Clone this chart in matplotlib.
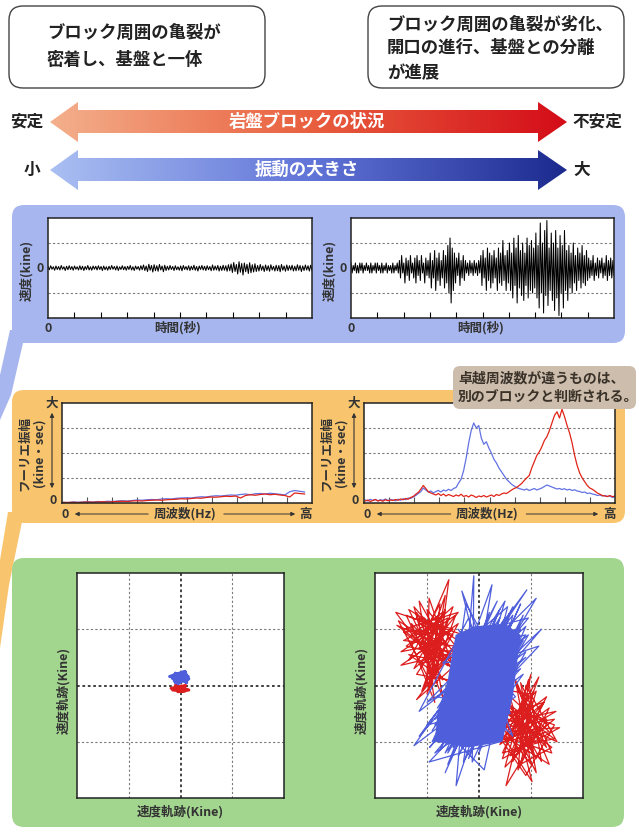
import numpy as np
import matplotlib
matplotlib.use('Agg')
import matplotlib.pyplot as plt
from matplotlib.patches import FancyBboxPatch, Polygon
from matplotlib.colors import LinearSegmentedColormap

plt.rcParams['font.family'] = ['Noto Sans CJK JP', 'DejaVu Sans']

W, H = 639, 833

# Textos
caixa_esq = ['ブロック周囲の亀裂が', '密着し、基盤と一体']
caixa_dir = ['ブロック周囲の亀裂が劣化、', '開口の進行、基盤との分離', 'が進展']
seta1 = ('安定', '岩盤ブロックの状況', '不安定')
seta2 = ('小', '振動の大きさ', '大')
nota = ['卓越周波数が違うものは、', '別のブロックと判断される。']

# Ondas de velocidade: picos positivos / negativos alternados (0.1 kine / 0.01 kine)
onda_dir_sup = [2, 1, 2, 1, 2, 2, 1, 2, 1, 2, 1, 2, 2, 1, 2, 1, 2, 1, 1, 2, 1, 2,
                3, 5, 2, 4, 3, 5, 2, 4, 5, 3, 5, 2, 4, 3,
                6, 3, 7, 4, 6, 3, 7, 5,
                9, 12, 8,
                6, 4, 6, 3, 5,
                3, 2, 3, 2, 3, 2, 3,
                5, 7, 4, 8, 6, 5, 7, 4, 8, 6, 11, 5, 7,
                10, 6, 12, 8, 13, 7, 10, 6, 12, 9, 11, 8,
                14, 9, 18, 10, 15, 19, 8, 14, 10,
                15, 8, 13, 9, 15, 7,
                9, 6, 10, 5, 8, 6, 9, 5, 7,
                4, 3, 5, 2, 4, 3, 4, 2, 5, 3, 4, 3]
onda_dir_inf = [2, 1, 2, 2, 1, 2, 1, 1, 2, 2, 1, 2, 1, 2, 2, 1, 2, 1, 2, 2, 1, 2,
                4, 2, 6, 3, 5, 2, 4, 6, 3, 5, 2, 6, 3, 4,
                8, 4, 9, 5, 7, 4, 8, 6,
                10, 14, 9,
                6, 3, 7, 4, 5,
                2, 3, 2, 3, 2, 3, 2,
                7, 4, 9, 5, 8, 6, 4, 9, 6, 7, 5, 9, 6,
                9, 12, 7, 14, 8, 11, 13, 7, 12, 9, 10, 8,
                12, 16, 10, 18, 11, 15, 9, 13, 17,
                12, 19, 10, 16, 9, 13,
                8, 10, 6, 9, 5, 8, 6, 7, 5,
                4, 3, 5, 3, 4, 2, 4, 3, 5, 3, 4, 3]
onda_esq_sup = [6, 9, 5, 8, 6, 10, 5, 7, 9, 6, 8, 5, 9, 7, 6, 10, 5, 8, 7, 9, 6, 8, 5, 7,
                10, 6, 8, 5, 9, 6, 7, 10, 5, 8, 6, 9,
                12, 8, 15, 10, 13, 9, 14, 8, 11,
                7, 10, 6, 9, 5, 8, 10, 6, 9, 7, 11, 6, 8, 10, 7, 9, 6, 12, 8, 10, 7, 11, 9, 13,
                16, 22, 14, 25, 18, 20, 15, 21, 13, 17,
                10, 14, 8, 12, 9, 13, 7, 11, 10, 14, 8, 12, 9, 11, 7, 13, 10, 8, 12, 9, 11]
onda_esq_inf = [7, 5, 9, 6, 8, 5, 10, 7, 6, 9, 5, 8, 7, 10, 6, 8, 9, 5, 8, 6, 10, 7, 9, 6,
                5, 8, 10, 6, 7, 9, 6, 8, 10, 5, 9, 7,
                10, 14, 9, 16, 11, 13, 8, 15, 10,
                8, 6, 10, 7, 9, 11, 6, 8, 10, 7, 9, 12, 6, 8, 10, 7, 11, 9, 8, 12, 10, 9, 13, 11,
                18, 14, 24, 17, 28, 15, 22, 19, 16, 14,
                12, 9, 14, 10, 13, 8, 12, 11, 15, 9, 13, 10, 8, 12, 11, 9, 14, 10, 8, 12, 10]

# Espectros de Fourier (0.01)
esp_esq_verm = [2, 2, 3, 2, 3, 4, 3, 4, 5, 4, 5, 6, 7, 6, 8, 9, 8, 10, 11, 12, 11, 13, 14, 15, 17,
                16, 18, 20, 19, 22, 24, 23, 25, 27, 26, 28, 20, 30, 33, 31, 34, 36, 33, 35, 32,
                30, 24, 40, 38, 36]
esp_esq_azul = [3, 2, 4, 3, 4, 5, 4, 6, 5, 7, 6, 8, 9, 8, 10, 12, 11, 13, 14, 13, 16, 17, 16, 19, 20,
                21, 20, 23, 25, 24, 27, 29, 28, 30, 32, 31, 34, 36, 33, 37, 38, 36, 39, 37, 35,
                32, 45, 50, 47, 44]
esp_dir_azul = [12, 8, 15, 10, 14, 9, 13, 11, 16, 10, 14, 12, 9, 15, 11, 17, 13, 20, 18, 24,
                30, 38, 45, 60, 52, 44, 48, 40,
                46, 50, 44, 52, 48, 55, 50, 58, 62,
                80, 95, 130, 180, 240, 290, 320,
                300, 310, 260, 235, 245,
                220, 200, 175, 160, 140, 125, 110, 95, 85,
                75, 68, 62, 58,
                55, 52, 56, 50, 54, 58, 52, 56, 60, 66, 72, 68, 64, 60, 56, 58, 54, 57, 52, 55,
                50, 53, 48,
                46, 42, 44, 38, 40, 36, 34, 30, 32, 28, 30, 26, 28, 22, 25]
esp_dir_verm = [8, 12, 6, 10, 14, 8, 11, 7, 13, 9, 12, 10, 14, 11, 16, 13, 18, 15, 22, 26,
                35, 42, 55, 70, 58, 45, 40, 36,
                32, 38, 30, 36, 28, 34, 30, 26, 32,
                28, 35, 26, 30, 24, 32, 28,
                22, 28, 25, 30, 24,
                28, 32, 26, 34, 30, 36, 40, 38, 45,
                52, 58, 62, 70,
                78, 90, 100, 110, 140, 165, 190, 205, 225, 250, 265, 290, 320, 350, 365, 340,
                375, 345, 310, 280, 240, 190, 150,
                120, 100, 85, 70, 60, 55, 48, 40, 35, 30, 28, 26, 30, 25, 28]

# Trajetorias de velocidade (kine)
orb_esq_azul_x = [0, -0.1, 0.12, -0.14, 0.1, -0.05, 0.15, -0.12, 0.08, -0.21, 0.14, -0.08, 0.16, -0.1,
                  0.05, -0.15, 0.12, 0]
orb_esq_azul_y = [0.1, 0.22, 0.05, 0.18, 0.24, 0.03, 0.16, 0.08, 0.25, 0.16, 0.1, 0.2, 0.12, 0.05,
                  0.23, 0.12, 0.19, 0.1]
orb_esq_verm_x = [0, -0.15, 0.08, -0.1, 0.16, -0.05, 0.1, -0.18, 0.06, 0]
orb_esq_verm_y = [-0.02, -0.08, -0.1, 0.0, -0.08, -0.11, 0.0, -0.05, -0.09, -0.03]

orb_dir_verm_x = [-0.9, -1.58, -0.6, -1.2, -0.5, -1.5, -0.4, -1.15, -0.58, -0.8, -1.6, -0.3, -1.0,
                  -0.96, -0.45, 0.8, 1.48, 0.5, 1.35, 0.6, 1.02, 0.4, 1.1, 0.77, 0.3, 1.3, 0.52,
                  0.9, 0.45, 1.2, -1.3, -0.7, -1.1, -0.5, -1.4, -0.8, -0.9, -1.25, -0.6, -1.0,
                  0.7, 1.25, 0.55, 1.4, 0.8, 1.0, 0.35, 1.15, 0.65, 0.95, -1.2, -0.7, -1.45,
                  -0.4, -1.05, -0.65, -0.85, -1.35, 0.6, 1.3, 0.85, 0.5, 1.1, 0.7, 1.45, 0.9,
                  -0.5, -1.3, -0.7, -1.0, -0.45, -1.45, -0.6, -1.1, -0.4, -1.35, -0.75, -0.9,
                  -1.55, -0.55, -1.2, -0.35, -1.05, -0.8, -1.4, -0.5, -1.25, -0.65, -1.0, -0.45,
                  -1.5, -0.7, -1.15, -0.85, -1.3, -0.5, -0.95, -1.2, -0.6, -1.45, -0.8, -1.05,
                  -0.4, -1.35, -0.7, -1.1,
                  0.5, 1.3, 0.7, 1.0, 0.45, 1.45, 0.6, 1.15, 0.4, 1.35, 0.75, 0.9, 1.5, 0.55,
                  1.2, 0.35, 1.05, 0.8, 1.4, 0.5, 1.25, 0.65, 1.0, 0.45, 1.55, 0.7, 1.1, 0.85,
                  1.3, 0.5, 0.95, 1.2, 0.6, 1.45, 0.8, 1.05, 0.4, 1.35, 0.7, 1.1]
orb_dir_verm_y = [0.8, 1.07, 0.4, 1.2, 1.0, 0.36, 0.6, 0.66, 1.88, 0.3, 1.3, 0.9, 0.1, 1.55, 0.2,
                  -0.6, -0.46, -1.0, -0.82, -0.2, -1.71, -0.8, -0.1, -1.18, -0.4, -0.6, -1.78,
                  -0.3, -1.2, -1.0, 0.9, 1.3, 0.4, 0.5, 0.7, 1.1, 0.2, 1.4, 0.7, 0.9, -0.9, -0.3,
                  -0.5, -1.1, -1.4, -0.5, -1.0, -0.75, -1.3, -0.15, 0.2, 0.9, 1.0, 1.3, 0.55,
                  1.6, 0.45, 0.55, -0.7, -0.2, -1.0, -0.3, -1.3, -0.45, -0.7, -1.6,
                  0.3, 1.1, -0.2, 1.35, 0.7, 0.8, 1.2, -0.1, 1.1, 0.45, 1.45, 0.0, 1.15, 0.55,
                  -0.25, 0.45, 1.2, 0.05, 1.25, 0.9, 0.3, 1.35, -0.15, 1.25, 0.6, 0.75, 1.5, -0.3,
                  0.75, 1.4, 0.2, 1.3, 0.35, 0.95, 1.0, -0.05, 0.8, 1.35, 0.1, 0.8,
                  -0.3, -1.1, 0.1, -1.4, -0.75, -0.6, -1.25, 0.15, -1.05, -0.4, -1.5, 0.0,
                  -1.0, -0.6, -0.9, -0.5, -1.2, 0.05, -1.2, -0.9, -0.3, -1.35, 0.2, -1.3,
                  -0.75, -0.8, -1.55, -0.25, -0.7, -1.45, 0.1, -1.35, -0.35, -0.95, -1.05,
                  -0.1, -0.85, -1.4, 0.05, -0.8]
orb_dir_azul_x = [0, 0.6, -0.7, 0.8, -0.5, 0.4, -0.85, 0.9, -0.3, 0.25, -0.6, 0.92, -1.15, 0.5,
                  -0.44, -0.1, -0.13, 0.7, -1.25, 0.3, -0.4, 1.1, -0.8, 0.6, -0.33, 0.4, -0.96,
                  1.15, -0.5, 0.65, -0.2, -1.15, 0.75, -0.6, 0.2, -0.7, 0.55, -0.1, 0.85, -0.9,
                  0.35, -0.55, 0.5, -0.3, 0.95, -0.75, 0.1, 0.6, -1.0, 0.45, -0.2, 0.8, -0.65,
                  0.15, -0.4, 0.7, -0.85, 1.2, -0.3, 0.3, -0.7, 0.9, -0.5, 0.4, -1.0, 0.65, 0.0,
                  0.55, -0.25, -0.6,
                  0.7, -0.75, 0.5, -0.3, 0.85, -0.8, 0.2, -0.5, 0.75, -0.65, 0.4, -0.9, 0.6,
                  -0.2, 0.9, -0.7, 0.3, -0.45, 0.8, -0.85, 0.55, -0.35, 0.65, -0.75, 0.1, -0.55,
                  0.95, -0.4, 0.45, -0.95, 0.7, -0.25, 0.5, -0.8, 0.25, -0.6, 0.85, -0.1, 0.6,
                  -0.7, 0.35, -0.5, 0.75, -0.3, 0.2, -0.85, 0.9, -0.45, 0.4]
orb_dir_azul_y = [0, 1.1, -0.9, 1.0, -1.1, 1.2, -0.6, 0.6, -1.36, 1.79, -0.4, 1.7, -0.9, 0.8,
                  -1.78, 1.95, -1.36, 0.3, -1.07, 1.0, -0.8, 1.55, -0.2, -0.5, 1.68, -1.0, -1.36,
                  0.7, 0.2, -0.9, 1.2, -0.46, 0.9, -1.2, 0.5, 0.4, 1.4, -1.0, 0.2, -1.0, 1.5,
                  -0.1, -0.8, 0.9, 1.2, -0.7, -1.5, 0.6, -0.3, 1.05, -0.6, 1.45, -1.55, 0.2, 1.0,
                  -0.2, -1.2, 1.0, -0.3, 0.7, -1.0, 0.9, 0.6, -0.4, -0.7, 1.25, -1.2, 0.1, 1.45,
                  -0.8,
                  1.0, -0.5, 1.2, -1.1, 0.8, -1.0, 1.3, -0.6, 0.5, -1.2, 0.9, -0.8, 1.3, -1.3,
                  1.05, -0.3, 1.1, -1.0, 0.3, -0.7, 1.0, -0.5, 1.4, -1.15, 0.8, -0.2, 0.9, -1.25,
                  0.4, -1.1, 0.7, -0.8, 1.5, -0.4, 0.6, -1.4, 1.25, -0.9, 0.2, -0.75, 1.25,
                  -1.05, 0.75, -0.15, 1.0, -0.95, 0.5, -0.35, 1.35]
# regiao onde o traco azul fica saturado
nucleo_azul_x = [-0.85, -0.2, 0.45, 0.65, 0.8, 0.5, -0.1, -0.45, -0.6, -0.8]
nucleo_azul_y = [-1.0, -1.1, -1.0, -0.2, 0.9, 1.1, 1.05, 0.9, 0.1, -0.5]

VERM = '#dc1e1e'
AZUL = '#4f5fdc'

fig = plt.figure(figsize=(W / 100, H / 100), dpi=100)
bg = fig.add_axes([0, 0, 1, 1])
bg.axis('off')


def caixa(x0, y0, x1, y1, fc, ec='none', r=12, lw=1.0, z=2, ax=bg):
    p = FancyBboxPatch((x0 + r, y0 + r), x1 - x0 - 2 * r, y1 - y0 - 2 * r,
                       boxstyle=f'round,pad={r}', fc=fc, ec=ec, lw=lw, zorder=z)
    ax.add_patch(p)


def eixo(x0, y0, x1, y1):
    ax = fig.add_axes([x0 / W, 1 - y1 / H, (x1 - x0) / W, (y1 - y0) / H])
    for s in ax.spines.values():
        s.set_linewidth(1.1)
        s.set_color('#222222')
    return ax


# caixas de cima
caixa(9, 6, 265, 88, 'white', '#444444', r=14)
caixa(368, 6, 624, 88, 'white', '#444444', r=14)
for yy, t in zip([33, 60], caixa_esq):
    bg.text(47, yy, t, fontsize=12.5, fontweight='bold', color='#222222', va='center')
for yy, t in zip([25, 48, 73], caixa_dir):
    bg.text(387, yy, t, fontsize=12.5, fontweight='bold', color='#222222', va='center')

# setas com gradiente
cm_verm = LinearSegmentedColormap.from_list('v', ['#f4b08c', '#e9603f', '#d40c18'])
cm_azul = LinearSegmentedColormap.from_list('a', ['#aabff2', '#6275d8', '#1c2a8e'])
for yc, cm, txt in [(122, cm_verm, seta1), (170, cm_azul, seta2)]:
    pts = [(50, yc), (78, yc - 20), (78, yc - 12), (538, yc - 12), (538, yc - 20), (567, yc),
           (538, yc + 20), (538, yc + 11), (78, yc + 11), (78, yc + 20)]
    poly = Polygon(pts, closed=True, fc='none', ec='none')
    bg.add_patch(poly)
    im = bg.imshow(np.linspace(0, 1, 256).reshape(1, -1), cmap=cm, aspect='auto',
                   extent=(50, 567, yc + 20, yc - 20), zorder=3)
    im.set_clip_path(poly)
    bg.text(307, yc, txt[1], fontsize=12.5, fontweight='bold', color='white',
            ha='center', va='center', zorder=4)
    bg.text(27 if len(txt[0]) > 1 else 32, yc, txt[0], fontsize=12, fontweight='bold',
            color='#222222', ha='center', va='center')
    bg.text(597 if len(txt[2]) > 1 else 582, yc, txt[2], fontsize=12, fontweight='bold',
            color='#222222', ha='center', va='center')

# paineis coloridos e suas "caudas"
bg.add_patch(Polygon([(10, 330), (26, 330), (11, 395), (0, 420), (0, 375)], fc='#a7b6ee',
                     ec='none', zorder=1))
caixa(12, 205, 625, 343, '#a7b6ee')
bg.add_patch(Polygon([(8, 512), (24, 512), (9, 585), (0, 648), (0, 560)], fc='#f8c56e',
                     ec='none', zorder=1))
caixa(12, 390, 625, 523, '#f8c56e')
caixa(12, 558, 624, 827, '#a2d58e')

GRADE = dict(color='#7a7a7a', lw=0.8, ls=(0, (2, 2)))
TXT = dict(color='#333333', fontsize=9, fontweight='bold')

# ondas no tempo
for x0, x1, sup, inf, div in [(48, 312, onda_esq_sup, onda_esq_inf, 100),
                               (351, 614, onda_dir_sup, onda_dir_inf, 10)]:
    ax = eixo(x0, 218, x1, 318)
    v = np.column_stack([np.array(sup), -np.array(inf)]).ravel() / div
    t = np.linspace(0, 1, len(v))
    ax.plot(t, v, color='black', lw=0.75)
    ax.set_xlim(0, 1)
    ax.set_ylim(-2, 2)
    for g in (-1, 1):
        ax.axhline(g, **GRADE, zorder=0)
    ax.set_xticks(np.arange(1, 10) / 10)
    ax.set_xticklabels([])
    ax.tick_params(axis='x', direction='in', length=4, width=0.8)
    ax.set_yticks([])
    bg.text(x0 - 8, 268, '0', ha='center', va='center', **TXT)
    bg.text(x0, 328, '0', ha='center', va='center', **TXT)
    bg.text((x0 + x1) / 2 - 2, 328, '時間(秒)', ha='center', va='center', **TXT)
    bg.text(x0 - 21, 270, '速度(kine)', rotation=90, ha='center', va='center', **TXT)

# espectros de Fourier
for x0, x1, verm, azul, xmax in [(62, 312, esp_esq_verm, esp_esq_azul, 0.97),
                                  (364, 615, esp_dir_verm, esp_dir_azul, 1.0)]:
    ax = eixo(x0, 403, x1, 503)
    f = np.linspace(0.005, xmax, len(verm))
    ax.plot(f, np.array(azul) / 100, color='#6272e2', lw=0.9)
    ax.plot(f, np.array(verm) / 100, color='#e02418', lw=0.9)
    ax.set_xlim(0, 1)
    ax.set_ylim(0, 4)
    for g in (1, 2, 3):
        ax.axhline(g, **GRADE, zorder=0)
    ax.set_xticks(np.arange(1, 10) / 10)
    ax.set_xticklabels([])
    ax.tick_params(axis='x', direction='in', length=4, width=0.8, color='#555555')
    ax.set_yticks([])
    bg.text(x0 - 10, 403, '大', ha='center', va='center', **TXT)
    bg.text(x0 - 9, 500, '0', ha='center', va='center', **TXT)
    bg.annotate('', xy=(x0 - 10, 410), xytext=(x0 - 10, 491),
                arrowprops=dict(arrowstyle='<|-|>', lw=0.8, color='#333333',
                                mutation_scale=6))
    bg.text(x0 - 37, 453, 'フーリエ振幅', rotation=90, ha='center', va='center', **TXT)
    bg.text(x0 - 23, 453, '(kine・sec)', rotation=90, ha='center', va='center', **TXT)
    xm = (x0 + x1) / 2
    bg.text(x0 + 3, 514, '0', ha='center', va='center', **TXT)
    bg.text(xm - 2, 514, '周波数(Hz)', ha='center', va='center', **TXT)
    bg.text(x1 - 6, 514, '高', ha='center', va='center', **TXT)
    bg.annotate('', xy=(x0 + 10, 514), xytext=(xm - 36, 514),
                arrowprops=dict(arrowstyle='-|>', lw=0.7, color='#333333', mutation_scale=6))
    bg.annotate('', xy=(x1 - 14, 514), xytext=(xm + 34, 514),
                arrowprops=dict(arrowstyle='-|>', lw=0.7, color='#333333', mutation_scale=6))

# trajetorias
orbitas = [(77, 284, orb_esq_verm_x, orb_esq_verm_y, orb_esq_azul_x, orb_esq_azul_y, 2.2),
           (375, 583, orb_dir_verm_x, orb_dir_verm_y, orb_dir_azul_x, orb_dir_azul_y, 0.9)]
for i, (x0, x1, rx, ry, bx, by, lw) in enumerate(orbitas):
    ax = eixo(x0, 573, x1, 798)
    ax.set_xlim(-2, 2)
    ax.set_ylim(-2, 2)
    for g in (-1, 1):
        ax.axhline(g, **GRADE, zorder=0)
        ax.axvline(g, **GRADE, zorder=0)
    ax.axhline(0, color='#333333', lw=1.3, ls=(0, (1.5, 1.5)), zorder=0)
    ax.axvline(0, color='#333333', lw=1.3, ls=(0, (1.5, 1.5)), zorder=0)
    ax.plot(rx, ry, color=VERM, lw=lw, zorder=2)
    if i == 1:
        ax.fill(nucleo_azul_x, nucleo_azul_y, color=AZUL, lw=0, zorder=3)
    ax.plot(bx, by, color=AZUL, lw=lw, zorder=3)
    ax.set_xticks([])
    ax.set_yticks([])
    bg.text((x0 + x1) / 2, 812, '速度軌跡(Kine)', ha='center', va='center', **TXT)
    bg.text(x0 - 13, 690, '速度軌跡(Kine)', rotation=90, ha='center', va='center', **TXT)

bg.set_xlim(0, W)
bg.set_ylim(H, 0)

# nota por cima do espectro
fg = fig.add_axes([0, 0, 1, 1])
fg.axis('off')
fg.set_xlim(0, W)
fg.set_ylim(H, 0)
caixa(453, 366, 636, 409, '#ccbdac', r=7, ax=fg)
for yy, t in zip([378, 397], nota):
    fg.text(458, yy, t, fontsize=10, color='#3a3228', va='center', fontweight='bold')

fig.savefig('out.png', dpi=100)
